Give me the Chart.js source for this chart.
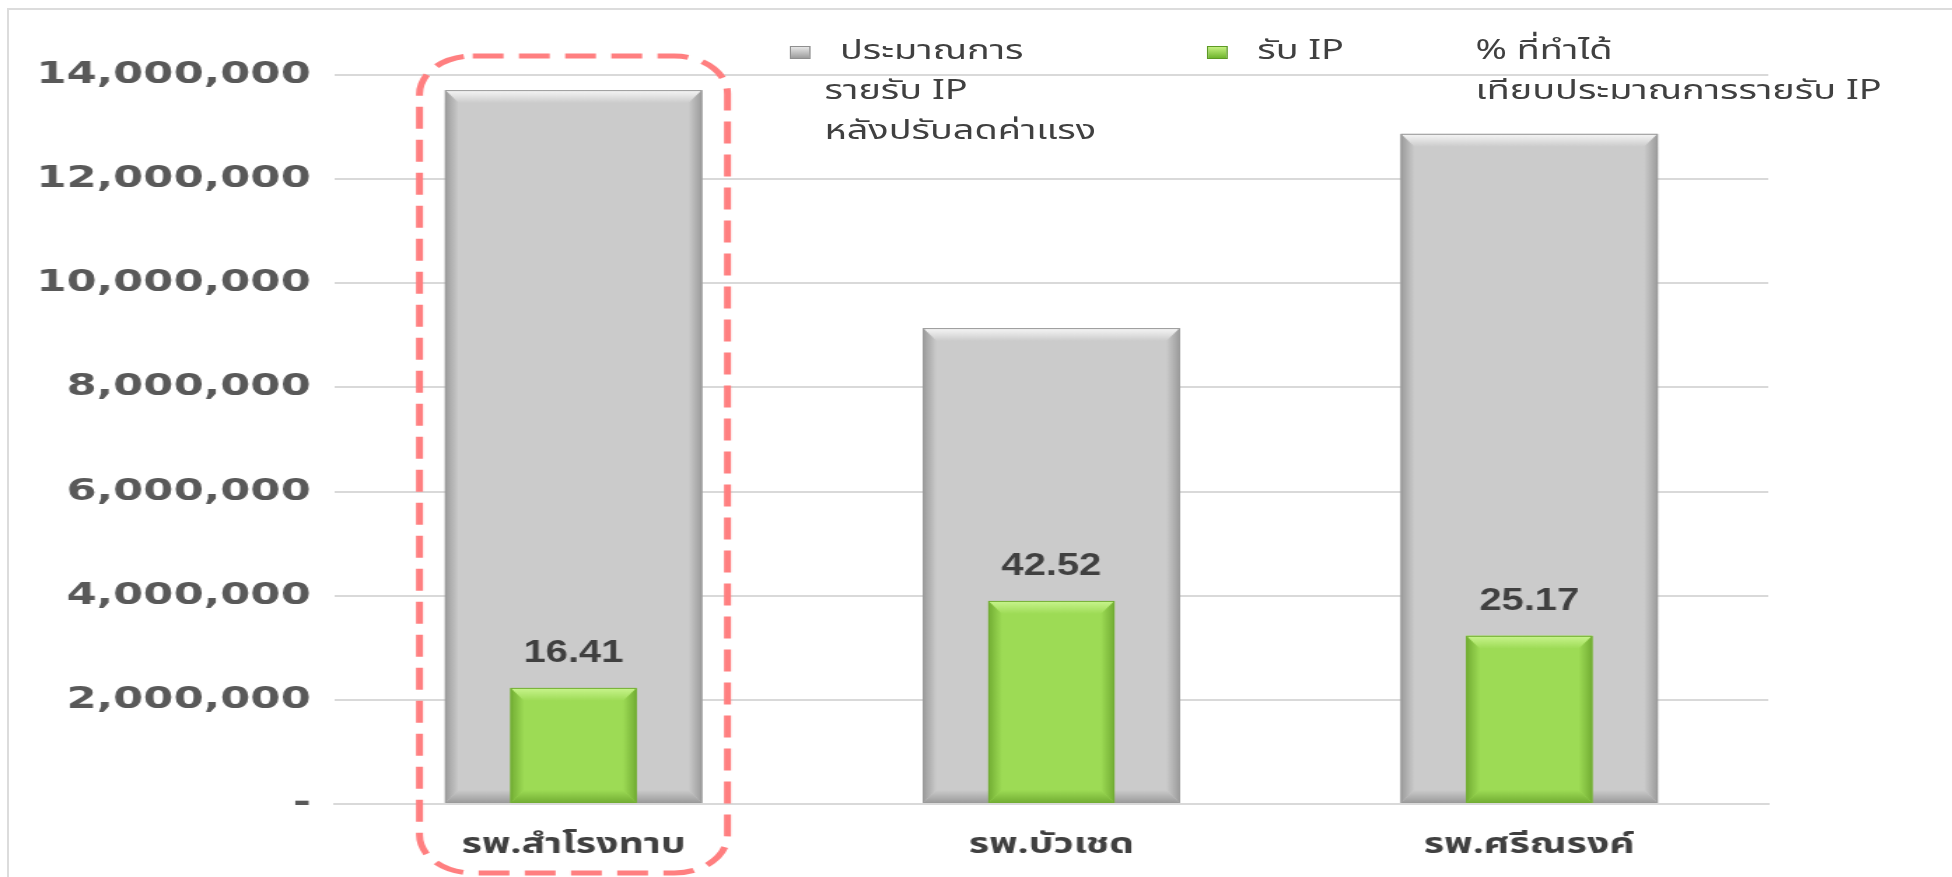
<!DOCTYPE html>
<html>
<head>
<meta charset="utf-8">
<script src="https://cdn.jsdelivr.net/npm/chart.js@4.4.1/dist/chart.umd.min.js"></script>
<style>
  html, body { margin: 0; padding: 0; background: #fff; overflow: hidden; }
  #frame { position: absolute; left: 7px; top: 8px; width: 2000px; height: 1000px; border: 2px solid #dcdcdc; }
  /* the original picture is stretched sideways, so the chart is drawn narrow and widened */
  #wrap { position: absolute; left: 0; top: 0; width: 1394px; height: 877px; transform: scaleX(1.4); transform-origin: 0 0; }
  .lg { position: absolute; font-family: "Noto Sans Thai", "Noto Sans", "DejaVu Sans", sans-serif; font-size: 27px; line-height: 40px; color: #404040; white-space: nowrap; }
  .mk { position: absolute; width: 15px; height: 13px; box-sizing: border-box; }
</style>
</head>
<body>
<div id="frame"></div>
<div id="wrap">
  <canvas id="chart" width="1394" height="877"></canvas>
</div>
<script>
var hospitals = ['รพ.สำโรงทาบ', 'รพ.บัวเชด', 'รพ.ศรีณรงค์'];
var estimateIP = [13710000, 9140000, 12870000];   // ประมาณการรายรับ IP หลังปรับลดค่าแรง
var receivedIP = [2230000, 3900000, 3230000];     // รับ IP
var percentDone = [16.41, 42.52, 25.17];          // % ที่ทำได้
var legendTexts = [
  ['ประมาณการ', 'รายรับ IP', 'หลังปรับลดค่าแรง'],
  ['รับ IP'],
  ['% ที่ทำได้', 'เทียบประมาณการรายรับ IP']
];

// html legend
var wrap = document.getElementById('wrap');
var legendPos = [
  { x: 589, indent: 11, mk: 564, mkStyle: 'linear-gradient(#e6e6e6,#9d9d9d)', mkBorder: '#8f8f8f' },
  { x: 898, indent: 0, mk: 862, mkStyle: 'linear-gradient(#c4f07f,#6fb52e)', mkBorder: '#5d9a25' },
  { x: 1054, indent: 0, mk: null }
];
legendTexts.forEach(function (lines, i) {
  var p = legendPos[i];
  var d = document.createElement('div');
  d.className = 'lg';
  d.style.left = p.x + 'px';
  d.style.top = '31px';
  d.style.textIndent = p.indent + 'px';
  d.innerHTML = lines.join('<br>');
  wrap.appendChild(d);
  if (p.mk !== null) {
    var m = document.createElement('div');
    m.className = 'mk';
    m.style.left = p.mk + 'px';
    m.style.top = '46px';
    m.style.background = p.mkStyle;
    m.style.border = '1px solid ' + p.mkBorder;
    wrap.appendChild(m);
  }
});

function bevel(ctx, el, base, light, dark, b) {
  var l = el.x - el.width / 2, r = el.x + el.width / 2;
  var t = el.y, bot = el.base;
  var by = Math.min(b, (bot - t) / 2), bx = Math.min(b * 0.75, el.width / 4);
  ctx.save();
  var g = ctx.createLinearGradient(0, t, 0, t + by);
  g.addColorStop(0, light); g.addColorStop(1, base);
  ctx.fillStyle = g;
  ctx.beginPath(); ctx.moveTo(l, t); ctx.lineTo(r, t); ctx.lineTo(r - bx, t + by); ctx.lineTo(l + bx, t + by); ctx.closePath(); ctx.fill();
  g = ctx.createLinearGradient(l, 0, l + bx, 0);
  g.addColorStop(0, dark); g.addColorStop(1, base);
  ctx.fillStyle = g;
  ctx.beginPath(); ctx.moveTo(l, t); ctx.lineTo(l + bx, t + by); ctx.lineTo(l + bx, bot - by); ctx.lineTo(l, bot); ctx.closePath(); ctx.fill();
  g = ctx.createLinearGradient(r, 0, r - bx, 0);
  g.addColorStop(0, dark); g.addColorStop(1, base);
  ctx.fillStyle = g;
  ctx.beginPath(); ctx.moveTo(r, t); ctx.lineTo(r - bx, t + by); ctx.lineTo(r - bx, bot - by); ctx.lineTo(r, bot); ctx.closePath(); ctx.fill();
  g = ctx.createLinearGradient(0, bot, 0, bot - by);
  g.addColorStop(0, dark); g.addColorStop(1, base);
  ctx.fillStyle = g;
  ctx.beginPath(); ctx.moveTo(l, bot); ctx.lineTo(r, bot); ctx.lineTo(r - bx, bot - by); ctx.lineTo(l + bx, bot - by); ctx.closePath(); ctx.fill();
  ctx.strokeStyle = dark; ctx.lineWidth = 1;
  ctx.strokeRect(l + 0.5, t + 0.5, el.width - 1, bot - t - 1);
  ctx.restore();
}

var bevelPlugin = {
  id: 'bevel',
  afterDatasetDraw: function (chart, args) {
    var ctx = chart.ctx;
    var ds = chart.data.datasets[args.index];
    args.meta.data.forEach(function (el) {
      if (ds.bevel === 'gray') bevel(ctx, el, '#cbcbcb', '#f7f7f7', '#9a9a9a', 13);
      else bevel(ctx, el, '#9ddb55', '#c9f58e', '#72ad33', 13);
    });
    if (ds.bevel === 'green') {
      ctx.save();
      ctx.font = 'bold 32px "Liberation Sans", sans-serif';
      ctx.fillStyle = '#404040';
      ctx.textAlign = 'center';
      ctx.textBaseline = 'middle';
      args.meta.data.forEach(function (el, i) {
        ctx.save();
        ctx.translate(el.x, el.y - 35);
        ctx.scale(0.89, 1);
        ctx.fillText(percentDone[i].toFixed(2), 0, 0);
        ctx.restore();
      });
      ctx.restore();
    }
  }
};

var highlightPlugin = {
  id: 'highlight',
  afterDraw: function (chart) {
    var ctx = chart.ctx;
    var cx = chart.scales.x.getPixelForValue(0);
    var top = chart.chartArea.top - 19;
    ctx.save();
    ctx.strokeStyle = '#ff7f80';
    ctx.lineWidth = 5;
    ctx.setLineDash([22, 11]);
    ctx.beginPath();
    ctx.roundRect(cx - 110, top, 220, chart.height - 4 - top, 38);
    ctx.stroke();
    ctx.restore();
  }
};

new Chart(document.getElementById('chart'), {
  type: 'bar',
  data: {
    labels: hospitals,
    datasets: [
      {
        label: legendTexts[1].join(' '),
        data: receivedIP,
        backgroundColor: '#9ddb55',
        grouped: false,
        order: 1,
        barPercentage: 0.264,
        categoryPercentage: 1,
        bevel: 'green'
      },
      {
        label: legendTexts[0].join(' '),
        data: estimateIP,
        backgroundColor: '#cbcbcb',
        grouped: false,
        order: 2,
        barPercentage: 0.538,
        categoryPercentage: 1,
        bevel: 'gray'
      }
    ]
  },
  options: {
    responsive: false,
    animation: false,
    layout: { padding: { left: 0, right: 131, top: 75, bottom: 0 } },
    plugins: { legend: { display: false }, tooltip: { enabled: false } },
    scales: {
      x: {
        grid: { display: false },
        border: { color: '#d9d9d9', width: 2 },
        ticks: { color: '#404040', padding: 19, font: { family: '"Noto Sans Thai", "DejaVu Sans", sans-serif', size: 28, weight: 'bold' } },
        afterFit: function (s) { s.height = 73; }
      },
      y: {
        min: 0,
        max: 14000000,
        border: { display: false },
        grid: { color: '#d9d9d9', lineWidth: 2, drawTicks: false },
        ticks: {
          stepSize: 2000000,
          padding: 17,
          color: '#595959',
          font: { family: '"DejaVu Sans", sans-serif', size: 31, weight: 'bold' },
          callback: function (v) { return v === 0 ? '-' : v.toLocaleString('en-US'); }
        },
        afterFit: function (s) { s.width = 239; }
      }
    }
  },
  plugins: [bevelPlugin, highlightPlugin]
});
</script>
</body>
</html>
